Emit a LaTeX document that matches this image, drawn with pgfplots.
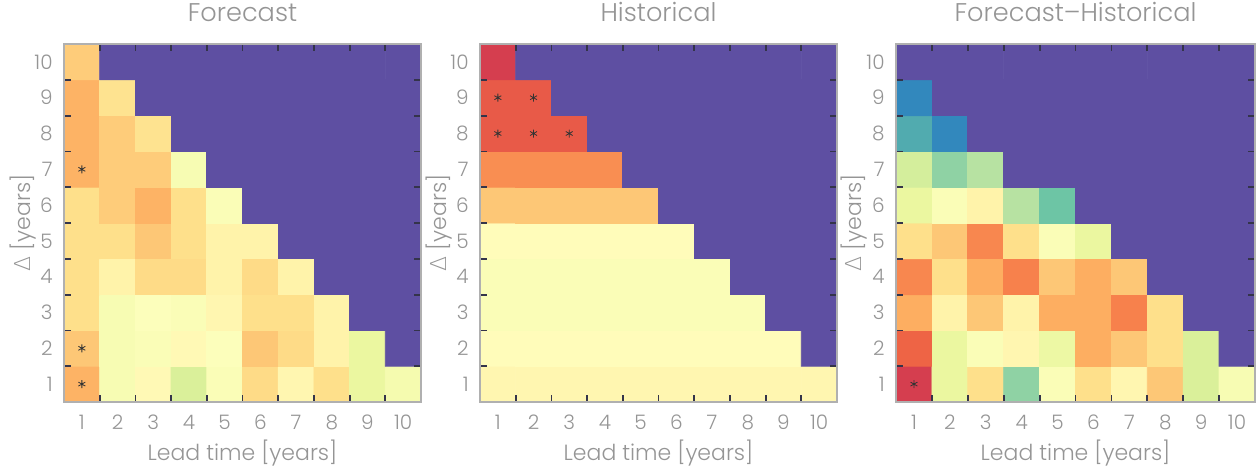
\documentclass[border=0pt]{standalone}
\usepackage{pgfplots}
\pgfplotsset{compat=1.18}
\usepackage{fontspec}
\setmainfont{Poppins}[UprightFont={* Light}]
\newfontfamily\dejavu{DejaVu Sans ExtraLight}
\definecolor{txt}{HTML}{959595}
\definecolor{framec}{HTML}{B0B0B0}
\definecolor{tickc}{HTML}{34344A}
\tikzset{tk/.style={draw=tickc, line width=0.9pt}}
\pgfplotsset{
  panel/.style={
    scale only axis, width=178.5pt, height=179pt, anchor=south west,
    axis on top,
    xmin=0.5, xmax=10.5, ymin=0.5, ymax=10.5,
    axis line style={draw=framec, line width=0.6pt},
    xtick={1,...,10}, ytick={1,...,10},
    major tick length=0pt,
    minor xtick={1.5,2.5,3.5,4.5,5.5,6.5,7.5,8.5,9.5},
    minor ytick={1.5,2.5,3.5,4.5,5.5,6.5,7.5,8.5,9.5},
    minor tick length=3.5pt,
    every minor tick/.append style={draw=tickc, line width=0.9pt},
    colormap={spectral}{rgb255=(94,79,162) rgb255=(50,136,189) rgb255=(102,194,165) rgb255=(171,221,164) rgb255=(230,245,152) rgb255=(255,255,191) rgb255=(254,224,139) rgb255=(253,174,97) rgb255=(244,109,67) rgb255=(213,62,79) rgb255=(158,1,66)},
    point meta min=0, point meta max=10,
    /pgf/number format/assume math mode=true,
    ticklabel style={font=\fontsize{10}{12}\selectfont, text=txt},
    xticklabel style={anchor=center, yshift=-10pt, inner sep=0pt},
    yticklabel style={anchor=east, xshift=-5.5pt, inner sep=0pt},
    title style={font=\fontsize{12.8}{14}\selectfont, text=txt, at={(0.5,1)}, anchor=base, yshift=5.3pt},
    xlabel={Lead time [years]}, ylabel={{\dejavu Δ} [years]},
    label style={font=\fontsize{11}{12}\selectfont, text=txt},
    xlabel style={at={(axis description cs:0.5,-0.1425)}, anchor=center},
    ylabel style={at={(axis description cs:-0.116,0.5)}, anchor=center},
  },
  cells/.style={matrix plot*, mesh/cols=10, point meta=explicit},
  stars/.style={only marks, mark=asterisk, mark size=2pt, mark options={draw=black!80, line width=0.4pt}},
}
\newcommand\cellticks{%
  \pgfplotsinvokeforeach{1.5,2.5,3.5,4.5,5.5,6.5,7.5,8.5,9.5}{%
    \draw[tk] (axis cs:##1,0.5) -- (axis cs:##1,0.62);
    \draw[tk] (axis cs:##1,10.5) -- (axis cs:##1,10.38);
    \draw[tk] (axis cs:0.5,##1) -- (axis cs:0.62,##1);
    \draw[tk] (axis cs:10.5,##1) -- (axis cs:10.38,##1);
  }}
\begin{document}
\begin{tikzpicture}
\path[use as bounding box] (0,0) rectangle (629pt,233.5pt);
% ---------------- Forecast
\begin{axis}[panel, at={(32pt,32.5pt)}, title={Forecast}]
\addplot[cells] table[meta=c, row sep=\\] {
x y c\\
1 1 6.9\\ 2 1 4.7\\ 3 1 5.2\\ 4 1 3.8\\ 5 1 4.8\\ 6 1 6.1\\ 7 1 5.3\\ 8 1 6.0\\ 9 1 4.2\\ 10 1 4.6\\
1 2 6.5\\ 2 2 4.7\\ 3 2 4.8\\ 4 2 5.2\\ 5 2 4.9\\ 6 2 6.5\\ 7 2 6.1\\ 8 2 5.4\\ 9 2 4.2\\ 10 2 0\\
1 3 6.0\\ 2 3 4.7\\ 3 3 4.9\\ 4 3 4.8\\ 5 3 5.3\\ 6 3 6.0\\ 7 3 6.0\\ 8 3 5.4\\ 9 3 0\\ 10 3 0\\
1 4 6.0\\ 2 4 5.4\\ 3 4 6.1\\ 4 4 6.1\\ 5 4 5.4\\ 6 4 6.1\\ 7 4 5.4\\ 8 4 0\\ 9 4 0\\ 10 4 0\\
1 5 6.0\\ 2 5 6.0\\ 3 5 6.5\\ 4 5 6.0\\ 5 5 5.4\\ 6 5 5.4\\ 7 5 0\\ 8 5 0\\ 9 5 0\\ 10 5 0\\
1 6 6.0\\ 2 6 6.4\\ 3 6 6.9\\ 4 6 6.0\\ 5 6 4.8\\ 6 6 0\\ 7 6 0\\ 8 6 0\\ 9 6 0\\ 10 6 0\\
1 7 6.9\\ 2 7 6.4\\ 3 7 6.4\\ 4 7 4.7\\ 5 7 0\\ 6 7 0\\ 7 7 0\\ 8 7 0\\ 9 7 0\\ 10 7 0\\
1 8 6.9\\ 2 8 6.4\\ 3 8 5.9\\ 4 8 0\\ 5 8 0\\ 6 8 0\\ 7 8 0\\ 8 8 0\\ 9 8 0\\ 10 8 0\\
1 9 6.9\\ 2 9 5.9\\ 3 9 0\\ 4 9 0\\ 5 9 0\\ 6 9 0\\ 7 9 0\\ 8 9 0\\ 9 9 0\\ 10 9 0\\
1 10 6.4\\ 2 10 0\\ 3 10 0\\ 4 10 0\\ 5 10 0\\ 6 10 0\\ 7 10 0\\ 8 10 0\\ 9 10 0\\ 10 10 0\\
};
\addplot[stars] coordinates {(1,7) (1,2) (1,1)};
\cellticks
\end{axis}
% ---------------- Historical
\begin{axis}[panel, at={(240pt,32.5pt)}, title={Historical}]
\addplot[cells] table[meta=c, row sep=\\] {
x y c\\
1 1 5.3\\ 2 1 5.3\\ 3 1 5.3\\ 4 1 5.3\\ 5 1 5.3\\ 6 1 5.3\\ 7 1 5.3\\ 8 1 5.3\\ 9 1 5.3\\ 10 1 5.3\\
1 2 5.1\\ 2 2 5.1\\ 3 2 5.1\\ 4 2 5.1\\ 5 2 5.1\\ 6 2 5.1\\ 7 2 5.1\\ 8 2 5.1\\ 9 2 5.1\\ 10 2 0\\
1 3 4.8\\ 2 3 4.8\\ 3 3 4.8\\ 4 3 4.8\\ 5 3 4.8\\ 6 3 4.8\\ 7 3 4.8\\ 8 3 4.8\\ 9 3 0\\ 10 3 0\\
1 4 4.8\\ 2 4 4.8\\ 3 4 4.8\\ 4 4 4.8\\ 5 4 4.8\\ 6 4 4.8\\ 7 4 4.8\\ 8 4 0\\ 9 4 0\\ 10 4 0\\
1 5 5.1\\ 2 5 5.1\\ 3 5 5.1\\ 4 5 5.1\\ 5 5 5.1\\ 6 5 5.1\\ 7 5 0\\ 8 5 0\\ 9 5 0\\ 10 5 0\\
1 6 6.5\\ 2 6 6.5\\ 3 6 6.5\\ 4 6 6.5\\ 5 6 6.5\\ 6 6 0\\ 7 6 0\\ 8 6 0\\ 9 6 0\\ 10 6 0\\
1 7 7.5\\ 2 7 7.5\\ 3 7 7.5\\ 4 7 7.5\\ 5 7 0\\ 6 7 0\\ 7 7 0\\ 8 7 0\\ 9 7 0\\ 10 7 0\\
1 8 8.4\\ 2 8 8.4\\ 3 8 8.4\\ 4 8 0\\ 5 8 0\\ 6 8 0\\ 7 8 0\\ 8 8 0\\ 9 8 0\\ 10 8 0\\
1 9 8.4\\ 2 9 8.4\\ 3 9 0\\ 4 9 0\\ 5 9 0\\ 6 9 0\\ 7 9 0\\ 8 9 0\\ 9 9 0\\ 10 9 0\\
1 10 9.0\\ 2 10 0\\ 3 10 0\\ 4 10 0\\ 5 10 0\\ 6 10 0\\ 7 10 0\\ 8 10 0\\ 9 10 0\\ 10 10 0\\
};
\addplot[stars] coordinates {(1,9) (2,9) (1,8) (2,8) (3,8)};
\cellticks
\end{axis}
% ---------------- Forecast - Historical
\begin{axis}[panel, at={(448pt,32.5pt)}, width=179.5pt, title={Forecast–Historical}]
\addplot[cells] table[meta=c, row sep=\\] {
x y c\\
1 1 9.0\\ 2 1 4.2\\ 3 1 6.0\\ 4 1 2.6\\ 5 1 4.8\\ 6 1 6.0\\ 7 1 5.3\\ 8 1 6.5\\ 9 1 3.8\\ 10 1 4.7\\
1 2 8.2\\ 2 2 4.2\\ 3 2 4.8\\ 4 2 5.3\\ 5 2 4.3\\ 6 2 7.0\\ 7 2 6.5\\ 8 2 6.0\\ 9 2 3.8\\ 10 2 0\\
1 3 7.0\\ 2 3 5.4\\ 3 3 6.5\\ 4 3 5.4\\ 5 3 7.0\\ 6 3 7.0\\ 7 3 7.7\\ 8 3 6.0\\ 9 3 0\\ 10 3 0\\
1 4 7.6\\ 2 4 6.0\\ 3 4 7.0\\ 4 4 7.7\\ 5 4 6.5\\ 6 4 7.0\\ 7 4 6.5\\ 8 4 0\\ 9 4 0\\ 10 4 0\\
1 5 6.0\\ 2 5 6.5\\ 3 5 7.6\\ 4 5 6.0\\ 5 5 4.8\\ 6 5 4.2\\ 7 5 0\\ 8 5 0\\ 9 5 0\\ 10 5 0\\
1 6 4.2\\ 2 6 4.8\\ 3 6 5.4\\ 4 6 3.2\\ 5 6 2.1\\ 6 6 0\\ 7 6 0\\ 8 6 0\\ 9 6 0\\ 10 6 0\\
1 7 3.7\\ 2 7 2.6\\ 3 7 3.2\\ 4 7 0\\ 5 7 0\\ 6 7 0\\ 7 7 0\\ 8 7 0\\ 9 7 0\\ 10 7 0\\
1 8 1.6\\ 2 8 1.0\\ 3 8 0\\ 4 8 0\\ 5 8 0\\ 6 8 0\\ 7 8 0\\ 8 8 0\\ 9 8 0\\ 10 8 0\\
1 9 1.0\\ 2 9 0\\ 3 9 0\\ 4 9 0\\ 5 9 0\\ 6 9 0\\ 7 9 0\\ 8 9 0\\ 9 9 0\\ 10 9 0\\
1 10 0\\ 2 10 0\\ 3 10 0\\ 4 10 0\\ 5 10 0\\ 6 10 0\\ 7 10 0\\ 8 10 0\\ 9 10 0\\ 10 10 0\\
};
\addplot[stars] coordinates {(1,1)};
\cellticks
\end{axis}
\end{tikzpicture}
\end{document}
